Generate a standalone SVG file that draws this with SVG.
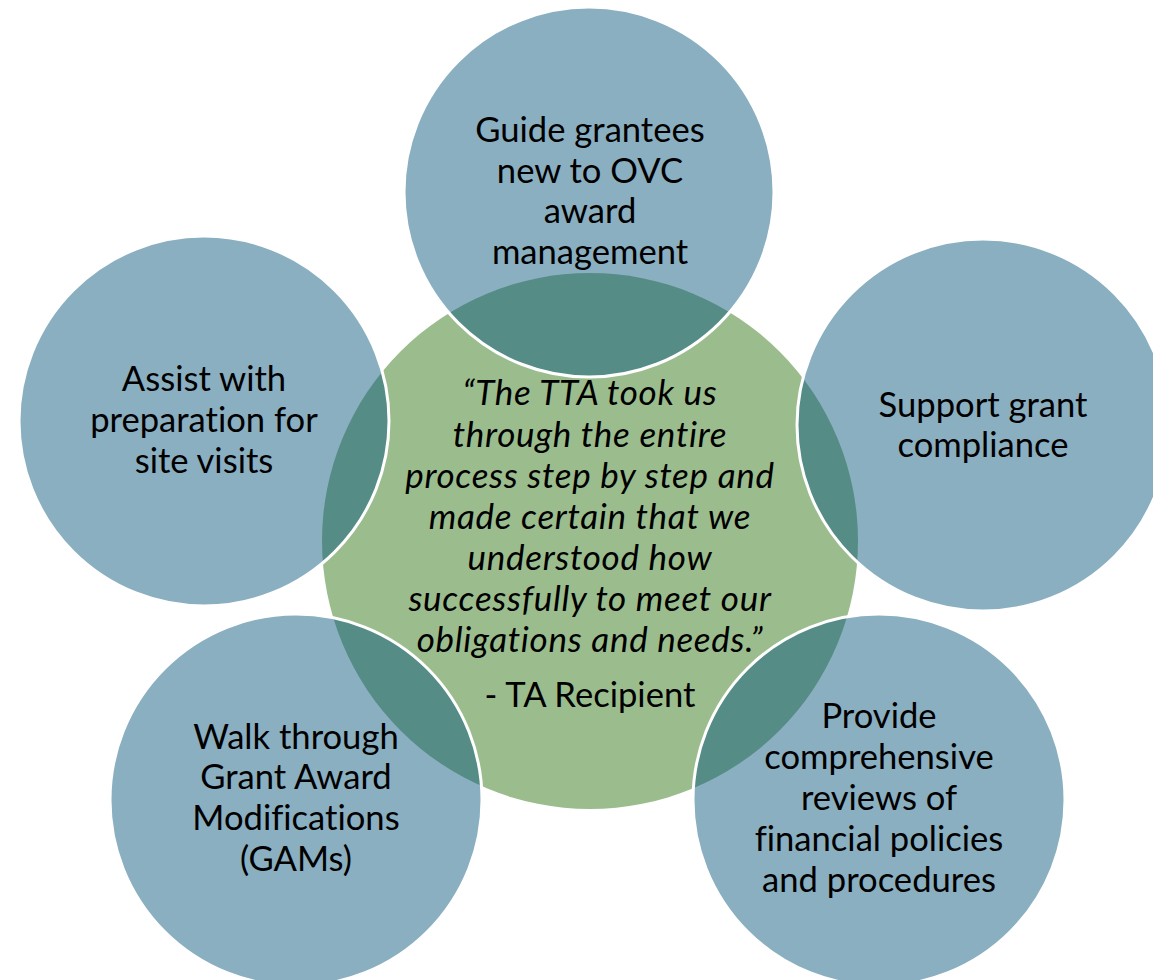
<svg xmlns="http://www.w3.org/2000/svg" width="1153" height="980" viewBox="0 0 1153 980">
  <style>
    .center { fill: #9bbd8e; }
    .bubble { fill: #0b587e; fill-opacity: 0.48; stroke: #ffffff; stroke-width: 3; }
    .lbl { font-family: Lato, "Liberation Sans", sans-serif; font-size: 34.6px; fill: #000000; text-anchor: middle; font-variant-ligatures: none; }
    .quote { font-family: Lato, "Liberation Sans", sans-serif; font-size: 35px; letter-spacing: 0.7px; font-style: italic; fill: #000000; text-anchor: middle; font-variant-ligatures: none; }
  </style>
  <rect x="0" y="0" width="1153" height="980" fill="#ffffff"/>
  <g id="node-center">
    <circle class="center" cx="590" cy="541" r="268"/>
  </g>
  <g id="connectors"></g>
  <g id="node-top">
    <circle class="bubble" cx="589" cy="192" r="185"/>
  </g>
  <g id="node-left">
    <circle class="bubble" cx="204" cy="421" r="185"/>
  </g>
  <g id="node-right">
    <circle class="bubble" cx="983" cy="425" r="186"/>
  </g>
  <g id="node-bottom-left">
    <circle class="bubble" cx="296" cy="800" r="186"/>
  </g>
  <g id="node-bottom-right">
    <circle class="bubble" cx="879" cy="800" r="186"/>
  </g>
  <g id="labels">
    <text class="lbl"><tspan x="590" y="142">Guide grantees</tspan><tspan x="590" y="183">new to OVC</tspan><tspan x="590" y="223">award</tspan><tspan x="590" y="264">management</tspan></text>
    <text class="lbl"><tspan x="204" y="391">Assist with</tspan><tspan x="204" y="432">preparation for</tspan><tspan x="204" y="473">site visits</tspan></text>
    <text class="lbl"><tspan x="983" y="417">Support grant</tspan><tspan x="983" y="457">compliance</tspan></text>
    <text class="lbl"><tspan x="296" y="749">Walk through</tspan><tspan x="296" y="789">Grant Award</tspan><tspan x="296" y="830">Modifications</tspan><tspan x="296" y="871">(GAMs)</tspan></text>
    <text class="lbl"><tspan x="879" y="728">Provide</tspan><tspan x="879" y="769">comprehensive</tspan><tspan x="879" y="810">reviews of</tspan><tspan x="879" y="851">financial policies</tspan><tspan x="879" y="892">and procedures</tspan></text>
    <text class="quote"><tspan x="590" y="405">“The TTA took us</tspan><tspan x="590" y="447">through the entire</tspan><tspan x="590" y="488">process step by step and</tspan><tspan x="590" y="529">made certain that we</tspan><tspan x="590" y="570">understood how</tspan><tspan x="590" y="611">successfully to meet our</tspan><tspan x="590" y="652">obligations and needs.”</tspan></text>
    <text class="lbl" x="590" y="707">- TA Recipient</text>
  </g>
</svg>
